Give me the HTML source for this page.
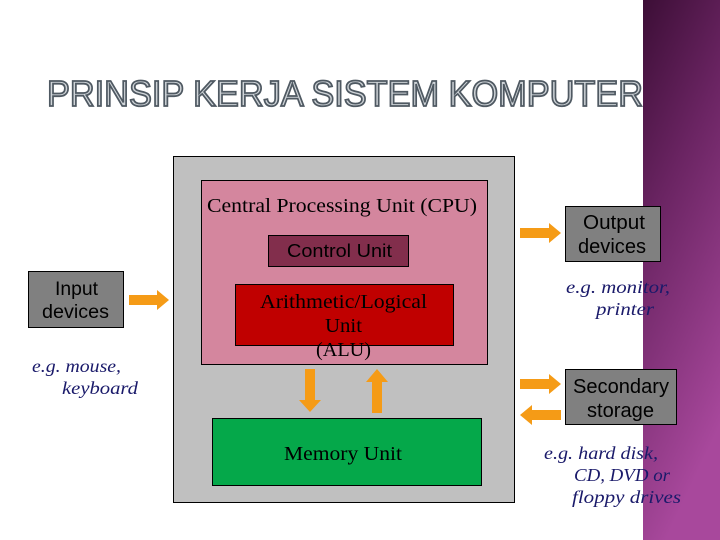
<!DOCTYPE html>
<html><head><meta charset="utf-8"><style>
html,body{margin:0;padding:0;width:720px;height:540px;overflow:hidden;background:#fff}
svg{display:block}
</style></head><body>
<svg width="720" height="540" viewBox="0 0 720 540" xmlns="http://www.w3.org/2000/svg">
<defs>
<linearGradient id="pg" x1="0" y1="0" x2="0.3" y2="1">
<stop offset="0" stop-color="#3c0e36"/>
<stop offset="0.4" stop-color="#6a2462"/>
<stop offset="1" stop-color="#a8489c"/>
</linearGradient>
</defs>
<rect x="643" y="0" width="77" height="540" fill="url(#pg)"/>
<text x="345" y="106" text-anchor="middle" font-family="Liberation Sans, sans-serif" font-size="36" textLength="596" lengthAdjust="spacingAndGlyphs" fill="#cfd4d8" stroke="#4f5962" stroke-width="1.8">PRINSIP KERJA SISTEM KOMPUTER</text>

<rect x="173.5" y="156.5" width="341" height="346" fill="#c0c0c0" stroke="#000"/>
<rect x="201.5" y="180.5" width="286" height="184" fill="#d4869e" stroke="#000"/>
<text x="207" y="212" font-family="Liberation Serif, serif" font-size="20" fill="#000" textLength="270" lengthAdjust="spacingAndGlyphs">Central Processing Unit (CPU)</text>
<rect x="268.5" y="235.5" width="140" height="31" fill="#822e4c" stroke="#000"/>
<text x="287" y="257" font-family="Liberation Sans, sans-serif" font-size="18" fill="#000" textLength="105" lengthAdjust="spacingAndGlyphs">Control Unit</text>
<rect x="235.5" y="284.5" width="218" height="61" fill="#c00000" stroke="#000"/>
<g font-family="Liberation Serif, serif" font-size="20" fill="#000">
<text x="260" y="308" textLength="167" lengthAdjust="spacingAndGlyphs">Arithmetic/Logical</text>
<text x="325" y="332" textLength="37" lengthAdjust="spacingAndGlyphs">Unit</text>
<text x="316" y="356" textLength="55" lengthAdjust="spacingAndGlyphs">(ALU)</text>
</g>
<rect x="212.5" y="418.5" width="269" height="67" fill="#05a84a" stroke="#000"/>
<text x="284" y="460" font-family="Liberation Serif, serif" font-size="20" fill="#000" textLength="118" lengthAdjust="spacingAndGlyphs">Memory Unit</text>

<rect x="28.5" y="271.5" width="95" height="56" fill="#808080" stroke="#000"/>
<g font-family="Liberation Sans, sans-serif" font-size="19" fill="#000">
<text x="55" y="295" textLength="43" lengthAdjust="spacingAndGlyphs">Input</text>
<text x="42" y="318" textLength="67" lengthAdjust="spacingAndGlyphs">devices</text>
</g>
<rect x="565.5" y="206.5" width="95" height="55" fill="#808080" stroke="#000"/>
<g font-family="Liberation Sans, sans-serif" font-size="20" fill="#000">
<text x="583" y="229" textLength="62" lengthAdjust="spacingAndGlyphs">Output</text>
<text x="578" y="253" textLength="68" lengthAdjust="spacingAndGlyphs">devices</text>
</g>
<rect x="565.5" y="369.5" width="111" height="55" fill="#808080" stroke="#000"/>
<g font-family="Liberation Sans, sans-serif" font-size="20" fill="#000">
<text x="573" y="393" textLength="96" lengthAdjust="spacingAndGlyphs">Secondary</text>
<text x="587" y="417" textLength="67" lengthAdjust="spacingAndGlyphs">storage</text>
</g>

<g fill="#f59b16">
<polygon points="129,295 157,295 157,290 169,300 157,310 157,305 129,305"/>
<polygon points="520,228 549,228 549,223 561,233 549,243 549,238 520,238"/>
<polygon points="520,379 549,379 549,374 561,384 549,394 549,389 520,389"/>
<polygon points="561,410 532,410 532,405 520,415 532,425 532,420 561,420"/>
<polygon points="305,369 315,369 315,400 321,400 310,412 299,400 305,400"/>
<polygon points="372,413 382,413 382,382 388,382 377,369 366,382 372,382"/>
</g>

<g font-family="Liberation Serif, serif" font-style="italic" font-size="18" fill="#1a1a6a">
<text x="32" y="372" textLength="89" lengthAdjust="spacingAndGlyphs">e.g. mouse,</text>
<text x="62" y="394" textLength="76" lengthAdjust="spacingAndGlyphs">keyboard</text>
<text x="566" y="293" textLength="104" lengthAdjust="spacingAndGlyphs">e.g. monitor,</text>
<text x="596" y="315" textLength="58" lengthAdjust="spacingAndGlyphs">printer</text>
<text x="544" y="459" textLength="114" lengthAdjust="spacingAndGlyphs">e.g. hard disk,</text>
<text x="574" y="481" textLength="96" lengthAdjust="spacingAndGlyphs">CD, DVD or</text>
<text x="572" y="503" textLength="109" lengthAdjust="spacingAndGlyphs">floppy drives</text>
</g>
</svg>
</body></html>
